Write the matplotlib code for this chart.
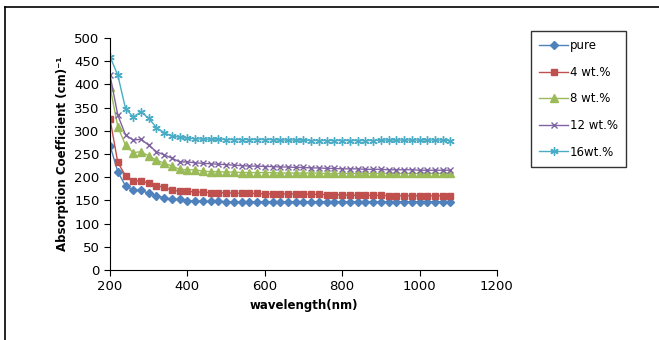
import matplotlib
matplotlib.use("Agg")
import matplotlib.pyplot as plt
from matplotlib.lines import Line2D

wavelength = list(range(200, 1081, 20))

pure = [268, 212, 181, 172, 172, 165, 160, 156, 152, 152,
        149, 149, 148, 148, 148, 147, 147, 147, 147, 147,
        147, 147, 147, 147, 147, 147, 147, 147, 147, 147,
        147, 147, 147, 147, 147, 147, 147, 147, 147, 147,
        147, 147, 147, 147, 147]
wt4 = [325, 232, 203, 192, 192, 187, 182, 178, 172, 170,
       170, 168, 168, 167, 167, 166, 166, 165, 165, 165,
       164, 164, 164, 164, 164, 164, 163, 163, 162, 162,
       162, 161, 161, 161, 161, 161, 160, 160, 160, 160,
       160, 160, 160, 160, 160]
wt8 = [395, 309, 269, 253, 255, 246, 237, 230, 224, 217,
       216, 216, 213, 212, 212, 211, 211, 210, 210, 210,
       210, 210, 209, 209, 209, 209, 209, 209, 208, 208,
       208, 208, 208, 208, 208, 208, 208, 208, 208, 208,
       208, 208, 208, 208, 208]
wt12 = [420, 334, 291, 280, 282, 269, 255, 248, 241, 233,
        233, 231, 230, 229, 228, 227, 226, 225, 224, 224,
        223, 223, 222, 222, 221, 221, 220, 220, 219, 219,
        218, 218, 218, 217, 217, 217, 216, 216, 216, 216,
        215, 215, 215, 215, 215]
wt16 = [460, 420, 348, 330, 341, 327, 307, 296, 289, 286,
        284, 283, 282, 282, 282, 281, 281, 281, 281, 281,
        281, 281, 280, 280, 280, 280, 279, 279, 279, 279,
        279, 279, 279, 279, 279, 280, 280, 280, 280, 280,
        280, 280, 280, 280, 279]

fig = plt.figure(figsize=(6.59, 3.40), dpi=100)
ax = fig.add_axes([0.167, 0.206, 0.587, 0.682])

ax.plot(wavelength, pure, color="#4F81BD", marker="D", markersize=4, lw=1, label="pure")
ax.plot(wavelength, wt4, color="#C0504D", marker="s", markersize=5, lw=1, label="4 wt.%")
ax.plot(wavelength, wt8, color="#9BBB59", marker="^", markersize=5.5, lw=1, label="8 wt.%")
ax.plot(wavelength, wt12, color="#8064A2", marker="x", markersize=5, mew=1, lw=1, label="12 wt.%")
ax.plot(wavelength, wt16, color="#4BACC6", marker=(6, 2, 0), markersize=6, mew=1, lw=1, label="16wt.%")

ax.set_xlim(200, 1200)
ax.set_ylim(0, 500)
ax.set_xticks(range(200, 1201, 200))
ax.set_yticks(range(0, 501, 50))
ax.spines["top"].set_visible(False)
ax.spines["right"].set_visible(False)
ax.tick_params(direction="out", length=4, labelsize=9.5, colors="black")
ax.set_xlabel("wavelength(nm)", fontsize=8.5, fontweight="bold")
ax.set_ylabel("Absorption Coefficient (cm)\u207b\u00b9", fontsize=8.5, fontweight="bold")

leg = fig.legend(loc="upper left", bbox_to_anchor=(0.806, 0.909),
                 bbox_transform=fig.transFigure, borderaxespad=0,
                 fancybox=False, edgecolor="black", fontsize=8.5,
                 labelspacing=1.15, handlelength=2.4, handletextpad=0.2,
                 borderpad=0.7)
leg.get_frame().set_linewidth(1)

# outer frame (partially cropped in the original)
fig.add_artist(Line2D([5 / 659, 1], [1 - 7 / 340, 1 - 7 / 340], color="black", lw=1.2, transform=fig.transFigure))
fig.add_artist(Line2D([5 / 659, 5 / 659], [0, 1 - 7 / 340], color="black", lw=1.2, transform=fig.transFigure))

fig.savefig("out.png", dpi=100)
